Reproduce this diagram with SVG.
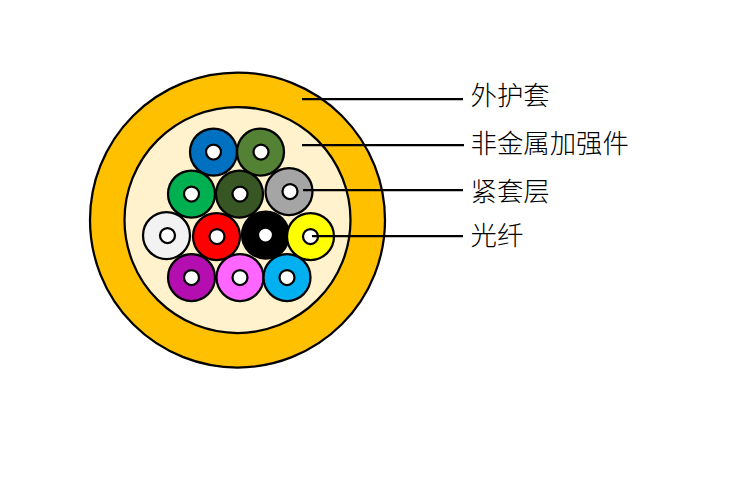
<svg xmlns="http://www.w3.org/2000/svg" width="740" height="500" viewBox="0 0 740 500">
<style>
.c{stroke:#000;stroke-width:2.25}
.f{fill:#fff;stroke:#000;stroke-width:2.25}
.l{stroke:#000;stroke-width:2.25;fill:none}
text{font-family:"Noto Sans CJK SC","Noto Sans CJK JP",serif;font-size:26.4px;font-weight:300;fill:#000}
</style>
<defs>
<g id="core"><circle class="f" r="7.5"/></g>
</defs>
<rect width="740" height="500" fill="#fff"/>
<g id="sheath"><circle class="c" cx="237.5" cy="220" r="147.5" fill="#ffc000"/></g>
<g id="strength"><circle class="c" cx="237.5" cy="220" r="113" fill="#fff2cc"/></g>
<g id="fiber-blue"><circle class="c" cx="213.5" cy="152" r="23.5" fill="#0070c0"/><use href="#core" x="213.5" y="152"/></g>
<g id="fiber-olive"><circle class="c" cx="260.5" cy="152" r="23.5" fill="#548235"/><use href="#core" x="261" y="152"/></g>
<g id="fiber-green"><circle class="c" cx="191.5" cy="194" r="23.5" fill="#00b050"/><use href="#core" x="191.5" y="194"/></g>
<g id="fiber-darkgreen"><circle class="c" cx="239.5" cy="194" r="23.5" fill="#375623"/><use href="#core" x="240" y="194"/></g>
<g id="fiber-gray"><circle class="c" cx="289" cy="191.5" r="23.5" fill="#a5a5a5"/><use href="#core" x="290" y="191.5"/></g>
<g id="fiber-white"><circle class="c" cx="166.5" cy="235.5" r="23.5" fill="#f2f2f2"/><use href="#core" x="167.5" y="235.5"/></g>
<g id="fiber-red"><circle class="c" cx="216.5" cy="236.5" r="23.5" fill="#ff0000"/><use href="#core" x="217" y="236.5"/></g>
<g id="fiber-black"><circle class="c" cx="265.5" cy="235" r="23.5" fill="#000"/><use href="#core" x="265.5" y="235"/></g>
<g id="fiber-yellow"><circle class="c" cx="310.5" cy="236.5" r="23.5" fill="#ffff00"/><use href="#core" x="310.5" y="236.5"/></g>
<g id="fiber-purple"><circle class="c" cx="191.5" cy="277.5" r="23.5" fill="#b50eb0"/><use href="#core" x="191.5" y="277.5"/></g>
<g id="fiber-pink"><circle class="c" cx="240" cy="277.5" r="23.5" fill="#ff66ff"/><use href="#core" x="240" y="277.5"/></g>
<g id="fiber-cyan"><circle class="c" cx="287" cy="277.5" r="23.5" fill="#00b0f0"/><use href="#core" x="287" y="277.5"/></g>
<g id="connectors">
<path class="l" d="M302 99H463"/>
<path class="l" d="M302 145H464"/>
<path class="l" d="M303 190H463"/>
<path class="l" d="M312 236H463"/>
</g>
<g id="label-1"><text x="470.5" y="105">外护套</text></g>
<g id="label-2"><text x="470.5" y="153">非金属加强件</text></g>
<g id="label-3"><text x="470.5" y="201">紧套层</text></g>
<g id="label-4"><text x="470.5" y="245">光纤</text></g>
</svg>
